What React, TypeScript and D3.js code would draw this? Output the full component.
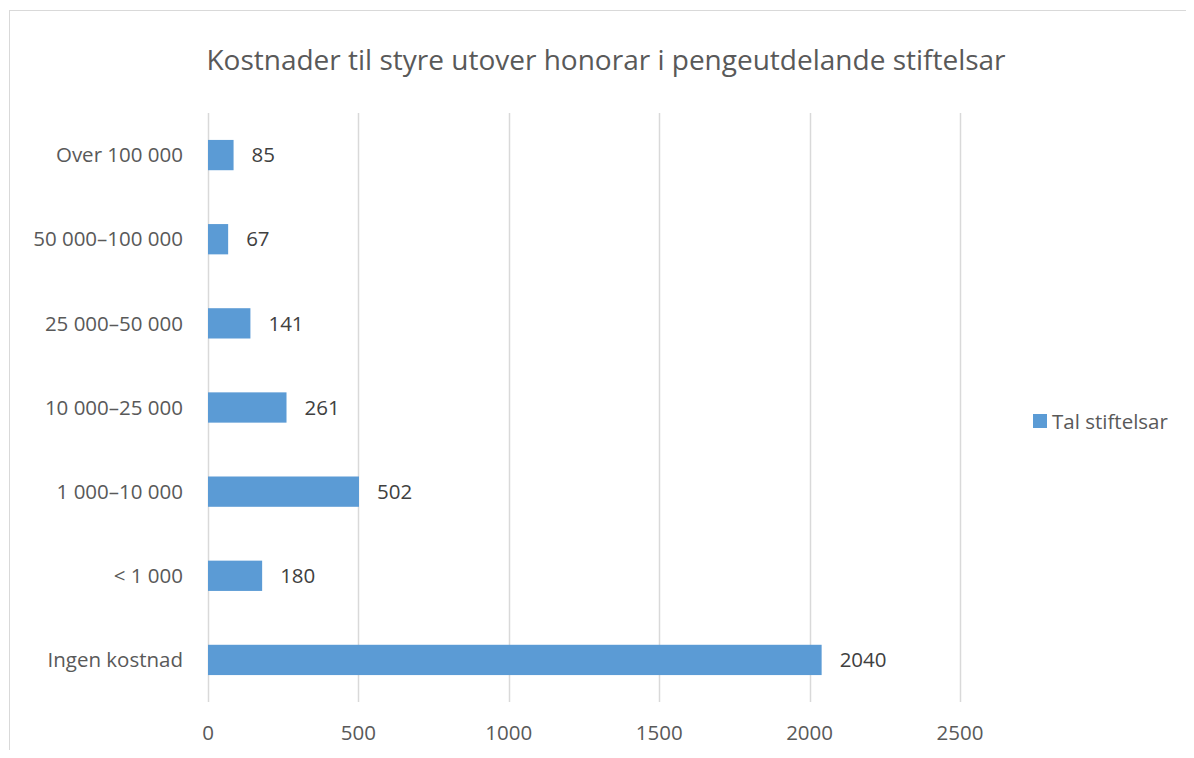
import React, { useEffect, useRef } from "react";
import * as d3 from "d3";

const categories = [
  "Over 100 000",
  "50 000–100 000",
  "25 000–50 000",
  "10 000–25 000",
  "1 000–10 000",
  "< 1 000",
  "Ingen kostnad",
];
const values = [85, 67, 141, 261, 502, 180, 2040];
const xTicks = [0, 500, 1000, 1500, 2000, 2500];
const seriesName = "Tal stiftelsar";
const title = "Kostnader til styre utover honorar i pengeutdelande stiftelsar";

const W = 1194;
const H = 758;
const barColor = "#5b9bd5";
const font = "'Open Sans', sans-serif";
const labelSize = "20.5px";

const BarChart = () => {
  const ref = useRef<SVGSVGElement | null>(null);

  useEffect(() => {
    const svg = d3.select(ref.current);
    svg.selectAll("*").remove();

    // chart frame (cut off at right and bottom)
    svg.append("rect")
      .attr("x", 9.5).attr("y", 10.5)
      .attr("width", 1200).attr("height", 800)
      .attr("fill", "white")
      .attr("stroke", "#d9d9d9");

    const x = d3.scaleLinear().domain([0, 2500]).range([208, 960]);
    const y = d3.scaleBand().domain(categories).range([113, 702]).paddingInner(0.64).paddingOuter(0.32);

    // gridlines
    svg.append("g")
      .selectAll("line")
      .data(xTicks)
      .join("line")
      .attr("x1", d => Math.round(x(d)) + 0.5)
      .attr("x2", d => Math.round(x(d)) + 0.5)
      .attr("y1", 113)
      .attr("y2", 702)
      .attr("stroke", "#d9d9d9")
      .attr("stroke-width", 1.5);

    // x tick labels
    svg.append("g")
      .selectAll("text")
      .data(xTicks)
      .join("text")
      .attr("x", d => x(d))
      .attr("y", 733)
      .attr("dy", "0.35em")
      .attr("text-anchor", "middle")
      .style("font-family", font)
      .style("font-size", labelSize)
      .attr("fill", "#595959")
      .text(d => d);

    // bars
    svg.append("g")
      .selectAll("rect")
      .data(values)
      .join("rect")
      .attr("x", x(0))
      .attr("y", (d, i) => y(categories[i])!)
      .attr("width", d => x(d) - x(0))
      .attr("height", y.bandwidth())
      .attr("fill", barColor);

    // data labels
    svg.append("g")
      .selectAll("text")
      .data(values)
      .join("text")
      .attr("x", d => x(d) + 18)
      .attr("y", (d, i) => y(categories[i])! + y.bandwidth() / 2)
      .attr("dy", "0.35em")
      .style("font-family", font)
      .style("font-size", labelSize)
      .attr("fill", "#404040")
      .text(d => d);

    // category labels
    svg.append("g")
      .selectAll("text")
      .data(categories)
      .join("text")
      .attr("x", 183)
      .attr("y", d => y(d)! + y.bandwidth() / 2)
      .attr("dy", "0.35em")
      .attr("text-anchor", "end")
      .style("font-family", font)
      .style("font-size", labelSize)
      .attr("fill", "#595959")
      .text(d => d);

    // title
    svg.append("text")
      .attr("x", 606)
      .attr("y", 60)
      .attr("dy", "0.35em")
      .attr("text-anchor", "middle")
      .style("font-family", font)
      .style("font-size", "28px")
      .attr("fill", "#595959")
      .text(title);

    // legend
    const legend = svg.append("g").attr("transform", "translate(1033, 414)");
    legend.append("rect").attr("width", 14).attr("height", 14).attr("fill", barColor);
    legend.append("text")
      .attr("x", 19)
      .attr("y", 8)
      .attr("dy", "0.35em")
      .style("font-family", font)
      .style("font-size", labelSize)
      .attr("fill", "#595959")
      .text(seriesName);
  }, []);

  return <svg ref={ref} width={W} height={H} style={{ display: "block" }} />;
};

export default function App() {
  return (
    <div style={{ margin: -8 }}>
      <BarChart />
    </div>
  );
}
